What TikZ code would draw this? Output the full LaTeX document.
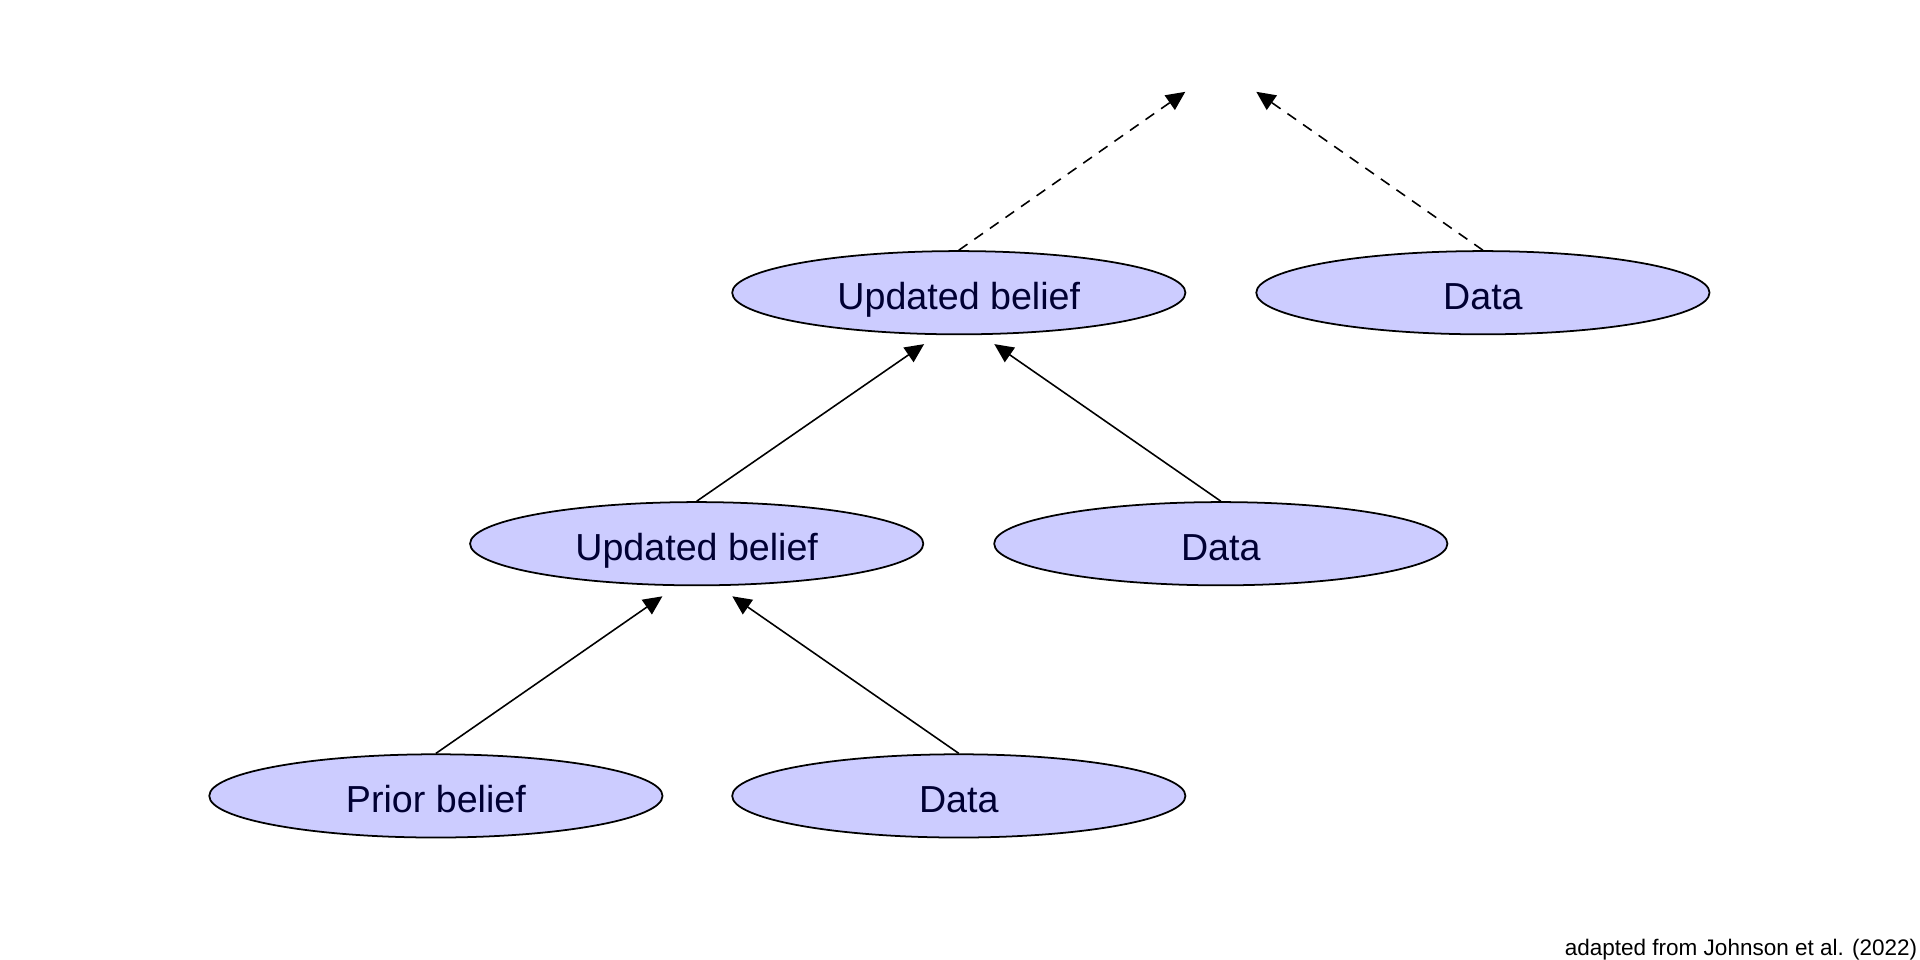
\documentclass[tikz,border=0pt]{standalone}
\usepackage{fontspec}
\setmainfont{Liberation Sans}
\usetikzlibrary{shapes.geometric,arrows.meta}
\definecolor{nodefill}{RGB}{204,204,255}
\definecolor{nodetext}{RGB}{0,0,51}
\begin{document}
\begin{tikzpicture}[x=0.01cm,y=-0.01cm,
  belief/.style={ellipse,draw=black,line width=0.5pt,fill=nodefill,text=nodetext,
    minimum width=4.53cm,minimum height=0.832cm,inner sep=0pt,
    text height=9.7pt,text depth=0pt,
    font=\fontsize{10.7}{12}\selectfont},
  link/.style={-{Triangle[length=5.4pt,width=5pt]},line width=0.45pt,black},
  dlink/.style={link,dash pattern=on 3pt off 2.4pt}]
\useasboundingbox (0,0) rectangle (1920,960);
\node[belief] (ub2) at (958.8,292.7) {Updated belief};
\node[belief] (d3) at (1482.9,292.7) {Data};
\node[belief] (ub1) at (696.7,543.7) {Updated belief};
\node[belief] (d2) at (1220.8,543.7) {Data};
\node[belief] (prior) at (435.9,795.9) {Prior belief};
\node[belief] (d1) at (958.8,795.9) {Data};
\coordinate (t1l) at (662.4,596.3);
\coordinate (t1r) at (732.3,596.3);
\coordinate (t2l) at (924.1,344.1);
\coordinate (t2r) at (994.3,344.1);
\coordinate (t3l) at (1185.3,91.8);
\coordinate (t3r) at (1256.3,91.8);
\draw[link] (prior.north) -- (t1l);
\draw[link] (d1.north) -- (t1r);
\draw[link] (ub1.north) -- (t2l);
\draw[link] (d2.north) -- (t2r);
\draw[dlink] (ub2.north) -- (t3l);
\draw[dlink] (d3.north) -- (t3r);
\node[anchor=base east,font=\fontsize{6.4}{8}\selectfont,inner sep=0pt] (cap) at (1918,955) {adapted from Johnson et al. (2022)};
\end{tikzpicture}
\end{document}
